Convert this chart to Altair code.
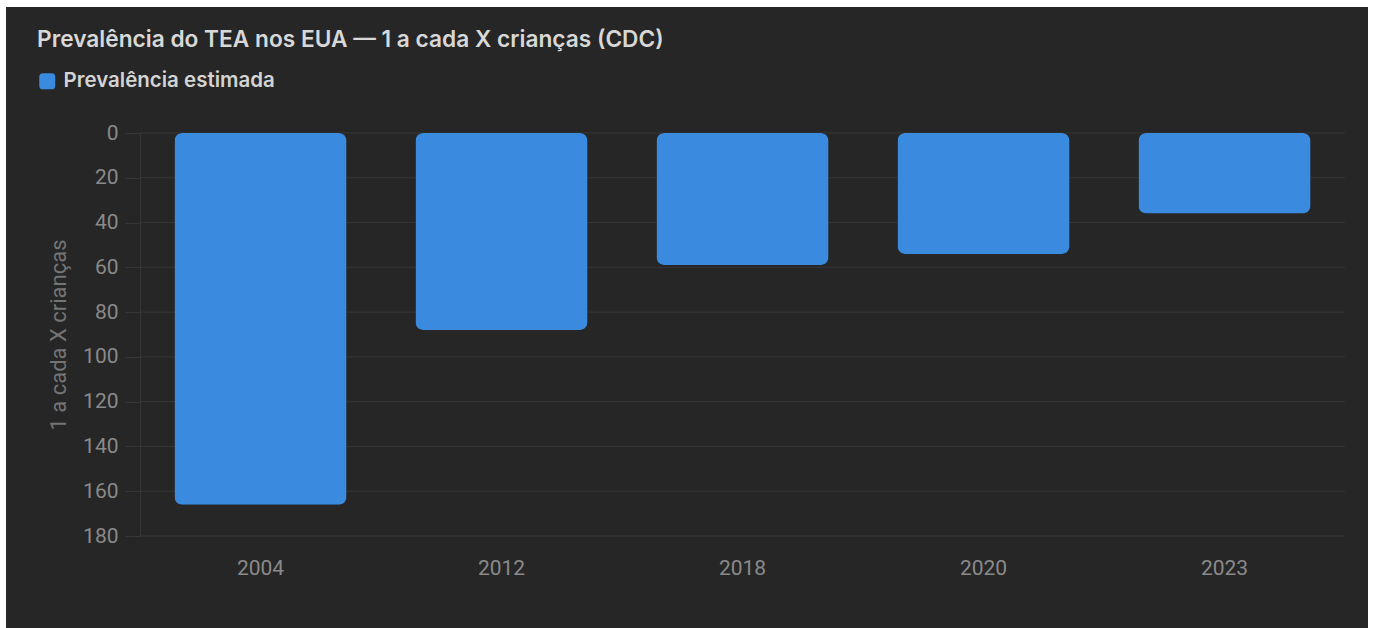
import altair as alt
import pandas as pd

years = ["2004", "2012", "2018", "2020", "2023"]
values = [166, 88, 59, 54, 36]
series_name = "Prevalência estimada"
y_ticks = [0, 20, 40, 60, 80, 100, 120, 140, 160, 180]

df = pd.DataFrame({"ano": years, "valor": values, "serie": [series_name] * len(years)})

BG = "#262626"
GRID = "#363636"
LABEL = "#8a8a8a"

rounded_sq = "M-1,-0.55 Q-1,-1 -0.55,-1 L0.55,-1 Q1,-1 1,-0.55 L1,0.55 Q1,1 0.55,1 L-0.55,1 Q-1,1 -1,0.55 Z"

yscale = alt.Scale(domain=[0, 180], reverse=True, nice=False)
yaxis = alt.Axis(title="1 a cada X crianças", values=y_ticks, grid=False,
                 labelFontSize=21, labelColor=LABEL, labelFont="Roboto",
                 labelPadding=7, tickSize=15, tickColor=GRID,
                 domain=True, domainColor=GRID,
                 titleFontSize=22, titleColor="#747474", titleFont="Roboto",
                 titleFontWeight="normal", titlePadding=12, zindex=1)

panel = alt.Chart(pd.DataFrame({"a": [0]})).mark_rect(color=BG).encode(
    x=alt.value(-134), x2=alt.value(1228), y=alt.value(-126), y2=alt.value(500)
)

grid_layer = alt.Chart(pd.DataFrame({"valor": y_ticks})).mark_rule(color=GRID, strokeWidth=1).encode(
    y=alt.Y("valor:Q", scale=yscale, axis=yaxis),
    x=alt.value(0), x2=alt.value(1205),
)

bars = alt.Chart(df).mark_bar(cornerRadius=8).encode(
    x=alt.X("ano:N", sort=years,
            scale=alt.Scale(paddingInner=0.286, paddingOuter=0.143),
            axis=alt.Axis(title=None, labelAngle=0, domain=False, ticks=False,
                          labelPadding=21, labelFontSize=21, labelColor=LABEL,
                          labelFont="Roboto", grid=False, zindex=1)),
    y=alt.Y("valor:Q", scale=yscale, axis=yaxis),
    color=alt.Color("serie:N", scale=alt.Scale(domain=[series_name], range=["#3A8BDF"]),
                    legend=alt.Legend(title=None, orient="none", legendX=-103, legendY=-62,
                                      symbolType=rounded_sq, symbolSize=256,
                                      symbolStrokeWidth=0, labelFontSize=20.5,
                                      labelColor="#d4d4d4", labelFont="Inter",
                                      labelFontWeight=600, labelOffset=6, labelLimit=0)),
)

chart = alt.layer(panel, grid_layer, bars).properties(
    width=1205, height=403,
    background="white",
    padding={"left": 140, "top": 133, "right": 28, "bottom": 92},
    autosize=alt.AutoSizeParams(type="none"),
    title=alt.Title("Prevalência do TEA nos EUA — 1 a cada X crianças (CDC)",
                    anchor="start", dx=31, dy=45, fontSize=22.7, font="Inter",
                    fontWeight=600, color="#d8d8d8", offset=0),
).configure_view(stroke=None, fill=BG)

chart.save("out.html", embed_options={"renderer": "svg", "actions": False})
